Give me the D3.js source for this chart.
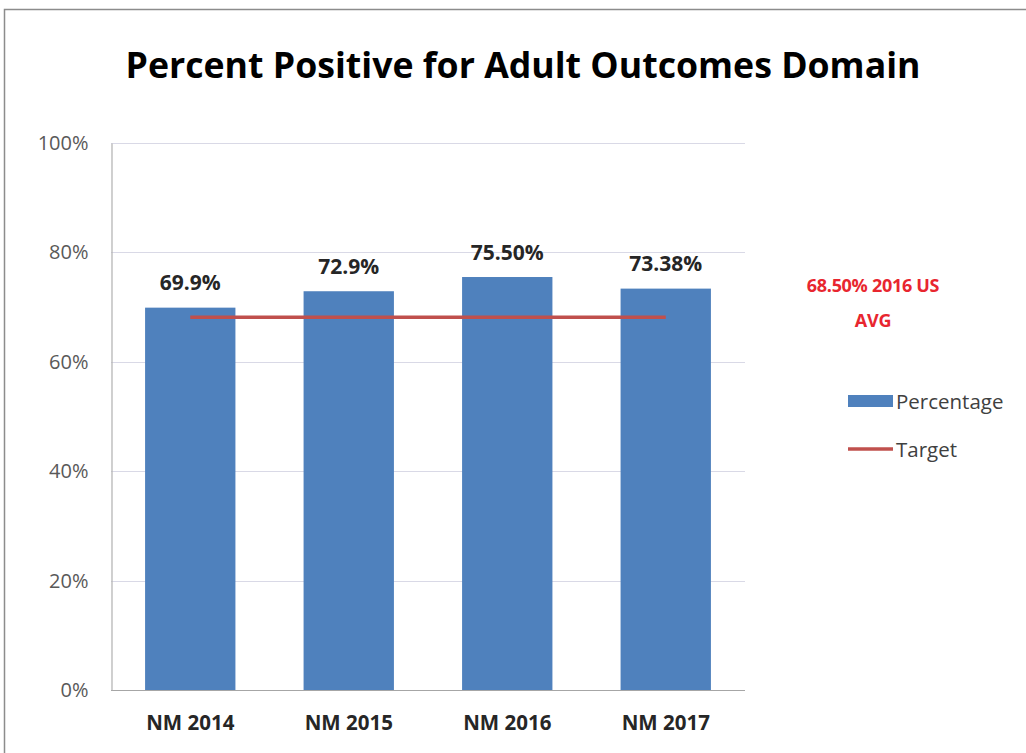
<!DOCTYPE html>
<html>
<head>
<meta charset="utf-8">
<script src="https://cdn.jsdelivr.net/npm/d3@7/dist/d3.min.js"></script>
<style>
  html, body { margin: 0; padding: 0; background: #fff; }
  svg { display: block; }
  text { font-family: "Open Sans", "Noto Sans", sans-serif; }
</style>
</head>
<body>
<svg id="chart" width="1026" height="753"></svg>
<script>
// Survey results, share of positive responses per year
const categories = ["NM 2014", "NM 2015", "NM 2016", "NM 2017"];
const percentages = [69.9, 72.9, 75.5, 73.38];
const valueLabels = ["69.9%", "72.9%", "75.50%", "73.38%"];
const targetValue = 68.5;
const targetNote = ["68.50% 2016 US", "AVG"];
const yTicks = [0, 20, 40, 60, 80, 100];
const legendItems = ["Percentage", "Target"];

const barColor = "#4f81bd";
const targetColor = "#c0504d";

const svg = d3.select("#chart");

// Outer frame of the chart area
svg.append("rect")
  .attr("x", 4.5).attr("y", 9.5)
  .attr("width", 1040).attr("height", 760)
  .attr("fill", "#fff")
  .attr("stroke", "#8c8c8c").attr("stroke-width", 1.5);

// Title
svg.append("text")
  .attr("x", 523).attr("y", 78)
  .attr("text-anchor", "middle")
  .attr("font-size", 36).attr("font-weight", "bold")
  .attr("fill", "#000")
  .attr("textLength", 795).attr("lengthAdjust", "spacingAndGlyphs")
  .text("Percent Positive for Adult Outcomes Domain");

const plot = { left: 111, right: 745, top: 143, bottom: 690 };

const x = d3.scaleBand()
  .domain(categories)
  .range([plot.left, plot.right])
  .paddingInner(0.43).paddingOuter(0.215);

const y = d3.scaleLinear()
  .domain([0, 100])
  .range([plot.bottom, plot.top]);

// Horizontal gridlines
svg.append("g")
  .selectAll("line")
  .data(yTicks)
  .join("line")
  .attr("x1", plot.left).attr("x2", plot.right)
  .attr("y1", d => Math.round(y(d)) + 0.5).attr("y2", d => Math.round(y(d)) + 0.5)
  .attr("stroke", d => d === 0 ? "#a6a6a6" : "#d9d9e6")
  .attr("stroke-width", 1.2);

// Y axis
const yAxis = d3.axisLeft(y)
  .tickValues(yTicks)
  .tickFormat(d => d + "%")
  .tickSize(0)
  .tickPadding(23);
const gy = svg.append("g")
  .attr("transform", `translate(${plot.left + 0.5},0)`)
  .call(yAxis);
gy.select(".domain").attr("stroke", "#b0b0b0").attr("stroke-width", 1.2);
gy.selectAll("text")
  .attr("font-size", 20)
  .attr("fill", "#595959")
  .attr("font-family", "'Open Sans', sans-serif");

// Bars
svg.append("g")
  .selectAll("rect")
  .data(percentages)
  .join("rect")
  .attr("x", (d, i) => x(categories[i]))
  .attr("y", d => y(d))
  .attr("width", x.bandwidth())
  .attr("height", d => y(0) - y(d))
  .attr("fill", barColor);

// Value labels above bars
svg.append("g")
  .selectAll("text")
  .data(percentages)
  .join("text")
  .attr("x", (d, i) => x(categories[i]) + x.bandwidth() / 2)
  .attr("y", d => y(d) - 17.5)
  .attr("text-anchor", "middle")
  .attr("font-size", 21).attr("font-weight", "bold")
  .attr("fill", "#262626")
  .text((d, i) => valueLabels[i]);

// Target line, from first to last category centre
const centers = categories.map(c => x(c) + x.bandwidth() / 2);
svg.append("line")
  .attr("x1", centers[0]).attr("x2", centers[centers.length - 1])
  .attr("y1", y(targetValue) + 2).attr("y2", y(targetValue) + 2)
  .attr("stroke", targetColor).attr("stroke-width", 3.5);

// X axis labels
const xAxis = d3.axisBottom(x).tickSize(0).tickPadding(25);
const gx = svg.append("g")
  .attr("transform", `translate(0,${plot.bottom})`)
  .call(xAxis);
gx.select(".domain").remove();
gx.selectAll("text")
  .attr("font-size", 20.5).attr("font-weight", "bold")
  .attr("fill", "#262626")
  .attr("font-family", "'Open Sans', sans-serif");

// Target annotation
svg.append("g")
  .selectAll("text")
  .data(targetNote)
  .join("text")
  .attr("x", 873)
  .attr("y", (d, i) => 291.5 + i * 35)
  .attr("text-anchor", "middle")
  .attr("font-size", 18).attr("font-weight", "bold")
  .attr("fill", "#e8262f")
  .attr("letter-spacing", -0.3)
  .text(d => d);

// Legend
const legend = svg.append("g");
legend.append("rect")
  .attr("x", 848).attr("y", 395)
  .attr("width", 45).attr("height", 12)
  .attr("fill", barColor);
legend.append("line")
  .attr("x1", 848).attr("x2", 893)
  .attr("y1", 449).attr("y2", 449)
  .attr("stroke", targetColor).attr("stroke-width", 3.5);
legend.selectAll("text")
  .data(legendItems)
  .join("text")
  .attr("x", 896)
  .attr("y", (d, i) => 408.5 + i * 48)
  .attr("font-size", 20.5)
  .attr("fill", "#404040")
  .text(d => d);
</script>
</body>
</html>
